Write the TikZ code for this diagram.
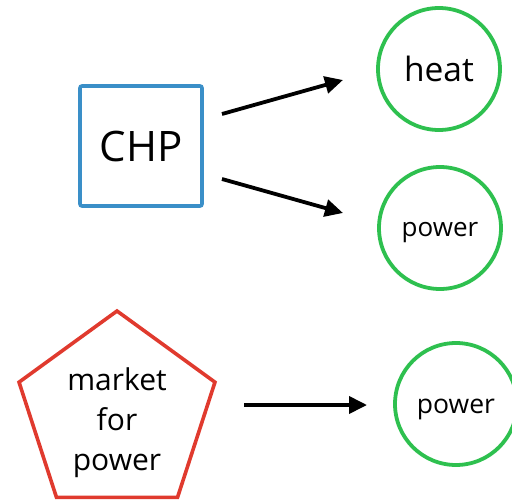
\documentclass[tikz,border=0pt]{standalone}
\usepackage{fontspec}
\setmainfont{Open Sans}
\usetikzlibrary{arrows.meta,shapes.geometric}
\definecolor{boxblue}{HTML}{3A8FC8}
\definecolor{outgreen}{HTML}{2EC04F}
\definecolor{mktred}{HTML}{E03A2E}
\newcommand{\lowered}[1]{\raisebox{-5pt}[\height][\depth]{#1}}
\tikzset{
  unitbox/.style={draw=boxblue, line width=3.6pt, rounded corners=2pt,
    minimum width=122pt, minimum height=120pt, inner sep=0pt,
    font=\fontsize{42}{48}\selectfont},
  product/.style={draw=outgreen, circle, line width=3.8pt,
    minimum size=122pt, inner sep=0pt},
  market/.style={draw=mktred, regular polygon, regular polygon sides=5,
    line width=3.6pt, minimum size=206pt, inner sep=0pt},
  flow/.style={line width=3.8pt, -{Triangle[length=18pt,width=17pt]}}
}
\begin{document}
\begin{tikzpicture}[x=1pt,y=-1pt]
  \useasboundingbox (0,0) rectangle (512,501);
  % process and its outputs
  \node[unitbox] (chp) at (141,146) {CHP};
  \node[product, font=\fontsize{33.5}{40}\selectfont] (heat) at (439,69) {heat};
  \node[product, font=\fontsize{26}{30}\selectfont] (power) at (440,228) {\lowered{power}};
  % market and its output
  \node[market] (mkt) at (117,414) {};
  \node[align=center, font=\fontsize{30}{40}\selectfont, anchor=base] (mkttext) at (117,470) {market\\for\\power};
  \node[product, font=\fontsize{26.5}{30}\selectfont] (mpower) at (456,404) {\lowered{power}};
  % flow arrows
  \coordinate (f1s) at (222,114);
  \coordinate (f1e) at (343,80);
  \coordinate (f2s) at (222,179);
  \coordinate (f2e) at (343,213);
  \coordinate (f3s) at (244,405);
  \coordinate (f3e) at (367,405);
  \draw[flow] (f1s) -- (f1e);
  \draw[flow] (f2s) -- (f2e);
  \draw[flow] (f3s) -- (f3e);
\end{tikzpicture}
\end{document}
